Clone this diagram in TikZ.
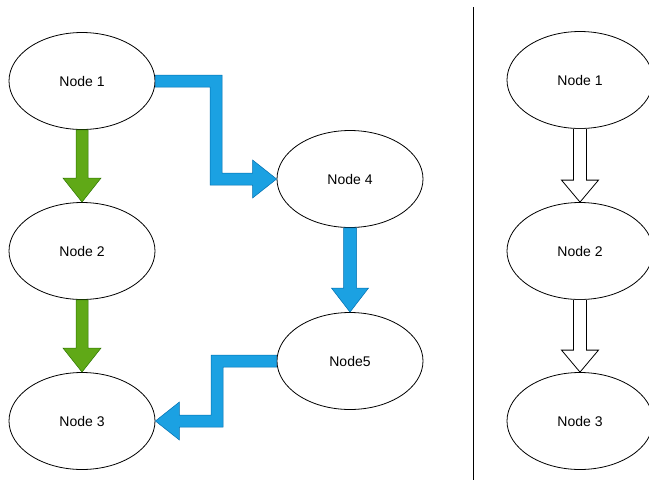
\documentclass[tikz,border=0pt]{standalone}
\usepackage{fontspec}
\setmainfont{Liberation Sans}
\usetikzlibrary{shapes.geometric,calc}
\definecolor{gfill}{HTML}{60A917}
\definecolor{gline}{HTML}{2D7600}
\definecolor{bfill}{HTML}{1BA1E2}
\definecolor{bline}{HTML}{006EAF}
\tikzset{
  nd/.style={ellipse,draw=black,line width=0.8pt,fill=white,minimum width=146pt,minimum height=97pt,inner sep=0pt,font=\fontsize{14}{16}\selectfont},
  garrow/.style={fill=gfill,draw=gline,line width=0.5pt,line join=miter},
  barrow/.style={fill=bfill,draw=bline,line width=0.5pt,line join=miter},
  harrow/.style={fill=white,draw=black,line width=0.8pt,line join=miter},
}
\begin{document}
\begin{tikzpicture}[x=1pt,y=-1pt]
\useasboundingbox (0,0) rectangle (649,480);
% left nodes
\node[nd] (L1) at (82,81) {Node 1};
\node[nd] (L2) at (82,251) {Node 2};
\node[nd] (L3) at (82,421) {Node 3};
\node[nd] (N4) at (350,179) {Node 4};
\node[nd] (N5) at (350,361) {Node5};
% right nodes
\node[nd] (R1) at (580,80) {Node 1};
\node[nd] (R2) at (580,251) {Node 2};
\node[nd] (R3) at (580,421) {Node 3};
% divider
\coordinate (dtop) at (473,7);
\coordinate (dbot) at (473,480);
\draw[line width=1pt] (dtop) -- (dbot);
% green arrows
\draw[garrow] ($(L1.south)+(-6,0)$) -- ($(L2.north)+(-6,-24)$) -- ($(L2.north)+(-19,-24)$) -- (L2.north)
  -- ($(L2.north)+(19,-24)$) -- ($(L2.north)+(6,-24)$) -- ($(L1.south)+(6,0)$) -- cycle;
\draw[garrow] ($(L2.south)+(-6,0)$) -- ($(L3.north)+(-6,-24)$) -- ($(L3.north)+(-19,-24)$) -- (L3.north)
  -- ($(L3.north)+(19,-24)$) -- ($(L3.north)+(6,-24)$) -- ($(L2.south)+(6,0)$) -- cycle;
% blue arrow Node1 -> Node4
\coordinate (m1) at (216,0);
\draw[barrow] ($(L1.east)+(0,-6)$) -- ($(m1|-L1.east)+(6,-6)$) -- ($(m1|-N4.west)+(6,-6)$)
  -- ($(N4.west)+(-24,-6)$) -- ($(N4.west)+(-24,-19)$) -- (N4.west) -- ($(N4.west)+(-24,19)$)
  -- ($(N4.west)+(-24,6)$) -- ($(m1|-N4.west)+(-6,6)$) -- ($(m1|-L1.east)+(-6,6)$) -- ($(L1.east)+(0,6)$) -- cycle;
% blue arrow Node4 -> Node5
\draw[barrow] ($(N4.south)+(-6.5,0)$) -- ($(N5.north)+(-6.5,-24)$) -- ($(N5.north)+(-18.5,-24)$) -- (N5.north)
  -- ($(N5.north)+(18.5,-24)$) -- ($(N5.north)+(6.5,-24)$) -- ($(N4.south)+(6.5,0)$) -- cycle;
% blue arrow Node5 -> Node3
\coordinate (m2) at (217,0);
\draw[barrow] ($(N5.west)+(0,-6)$) -- ($(m2|-N5.west)+(-6,-6)$) -- ($(m2|-L3.east)+(-6,-6)$)
  -- ($(L3.east)+(24,-6)$) -- ($(L3.east)+(24,-19)$) -- (L3.east) -- ($(L3.east)+(24,19)$)
  -- ($(L3.east)+(24,6)$) -- ($(m2|-L3.east)+(6,6)$) -- ($(m2|-N5.west)+(6,6)$) -- ($(N5.west)+(0,6)$) -- cycle;
% hollow arrows
\draw[harrow] ($(R1.south)+(-6.5,0)$) -- ($(R2.north)+(-6.5,-22)$) -- ($(R2.north)+(-18.5,-22)$) -- (R2.north)
  -- ($(R2.north)+(18.5,-22)$) -- ($(R2.north)+(6.5,-22)$) -- ($(R1.south)+(6.5,0)$);
\draw[harrow] ($(R2.south)+(-6.5,0)$) -- ($(R3.north)+(-6.5,-22)$) -- ($(R3.north)+(-18.5,-22)$) -- (R3.north)
  -- ($(R3.north)+(18.5,-22)$) -- ($(R3.north)+(6.5,-22)$) -- ($(R2.south)+(6.5,0)$);
\end{tikzpicture}
\end{document}
